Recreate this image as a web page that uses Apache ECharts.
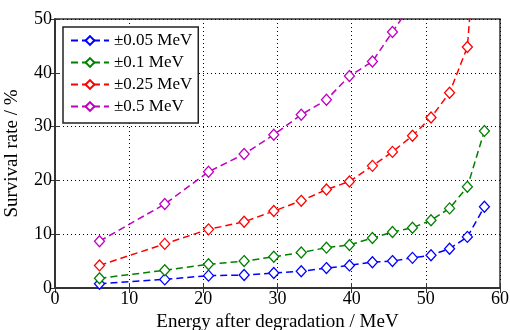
<!DOCTYPE html>
<html>
<head>
<meta charset="utf-8">
<script src="https://cdn.jsdelivr.net/npm/echarts@6/dist/echarts.min.js"></script>
<style>
  html, body { margin: 0; padding: 0; background: #fff; }
  #chart { width: 510px; height: 330px; }
</style>
</head>
<body>
<div id="chart"></div>
<script>
// energy after degradation (MeV), shared by all series
var energy = [6.0, 14.8, 20.7, 25.5, 29.5, 33.2, 36.6, 39.7, 42.8, 45.5, 48.2, 50.7, 53.2, 55.6, 57.9]
// survival rate (%) per energy window
var rate005 = [0.8, 1.6, 2.3, 2.4, 2.8, 3.1, 3.7, 4.2, 4.8, 5.0, 5.6, 6.1, 7.3, 9.5, 15.1]
var rate01 = [1.8, 3.3, 4.4, 5.0, 5.8, 6.6, 7.5, 8.0, 9.3, 10.4, 11.2, 12.6, 14.8, 18.8, 29.2]
var rate025 = [4.2, 8.2, 10.9, 12.3, 14.3, 16.2, 18.3, 19.8, 22.7, 25.3, 28.3, 31.7, 36.3, 44.8, 85.0]
var rate05 = [8.7, 15.6, 21.6, 24.9, 28.5, 32.2, 35.0, 39.4, 42.1, 47.6, 53.0, 58.0, 64.0, 75.0, 90.0]
var seriesNames = ['\u00b10.05 MeV', '\u00b10.1 MeV', '\u00b10.25 MeV', '\u00b10.5 MeV']
var seriesColors = ['#0000ff', '#008000', '#ff0000', '#bf00bf']
var xTicks = [0, 10, 20, 30, 40, 50, 60]
var yTicks = [0, 10, 20, 30, 40, 50]

var font = 'Liberation Serif'
var allRates = [rate005, rate01, rate025, rate05]

function pairs(ys) {
  var out = []
  for (var i = 0; i < energy.length; i++) {
    out.push([energy[i], ys[i]])
  }
  return out
}

var series = allRates.map(function (ys, k) {
  return {
    name: seriesNames[k],
    type: 'line',
    data: pairs(ys),
    symbol: 'diamond',
    symbolSize: [10, 11],
    clip: true,
    lineStyle: { color: seriesColors[k], width: 1.5, type: [7, 4] },
    itemStyle: { color: '#ffffff', borderColor: seriesColors[k], borderWidth: 1.3 },
    z: 2 + k
  }
})

function axisBase(ticks) {
  return {
    type: 'value',
    min: ticks[0],
    max: ticks[ticks.length - 1],
    interval: ticks[1] - ticks[0],
    axisLine: { show: true, lineStyle: { color: '#333', width: 1.5 } },
    axisTick: { show: true, inside: true, length: 5, lineStyle: { color: '#333' } }
  }
}

var chart = echarts.init(document.getElementById('chart'))
chart.setOption({
  animation: false,
  textStyle: { fontFamily: font },
  grid: {
    left: 55, right: 10, top: 19, bottom: 42,
    outerBoundsMode: 'none',
    containLabel: false,
    show: true, borderColor: '#333', borderWidth: 1.5
  },
  legend: {
    left: 63,
    top: 27,
    orient: 'vertical',
    itemWidth: 38,
    itemHeight: 11,
    itemGap: 5,
    padding: [5, 6, 8, 7],
    backgroundColor: '#fff',
    borderColor: '#222',
    borderWidth: 1.5,
    textStyle: { fontFamily: font, fontSize: 17, color: '#000' },
    data: seriesNames
  },
  xAxis: [
    Object.assign(axisBase(xTicks), {
      name: 'Energy after degradation / MeV',
      nameLocation: 'middle',
      nameGap: 22,
      nameTextStyle: { fontFamily: font, fontSize: 19, color: '#000' },
      axisLabel: { margin: 2, fontSize: 18, color: '#000', fontFamily: font },
      splitLine: { show: true, lineStyle: { color: '#000', type: [1, 3], width: 1 } }
    }),
    Object.assign(axisBase(xTicks), {
      position: 'top',
      axisLabel: { show: false },
      splitLine: { show: false }
    })
  ],
  yAxis: [
    Object.assign(axisBase(yTicks), {
      name: 'Survival rate / %',
      nameLocation: 'middle',
      nameGap: 33,
      nameTextStyle: { fontFamily: font, fontSize: 19, color: '#000' },
      axisLabel: { margin: 3, fontSize: 18, color: '#000', fontFamily: font },
      splitLine: { show: true, lineStyle: { color: '#000', type: [1, 3], width: 1 } }
    }),
    Object.assign(axisBase(yTicks), {
      position: 'right',
      axisLabel: { show: false },
      splitLine: { show: false }
    })
  ],
  series: series
})
</script>
</body>
</html>
